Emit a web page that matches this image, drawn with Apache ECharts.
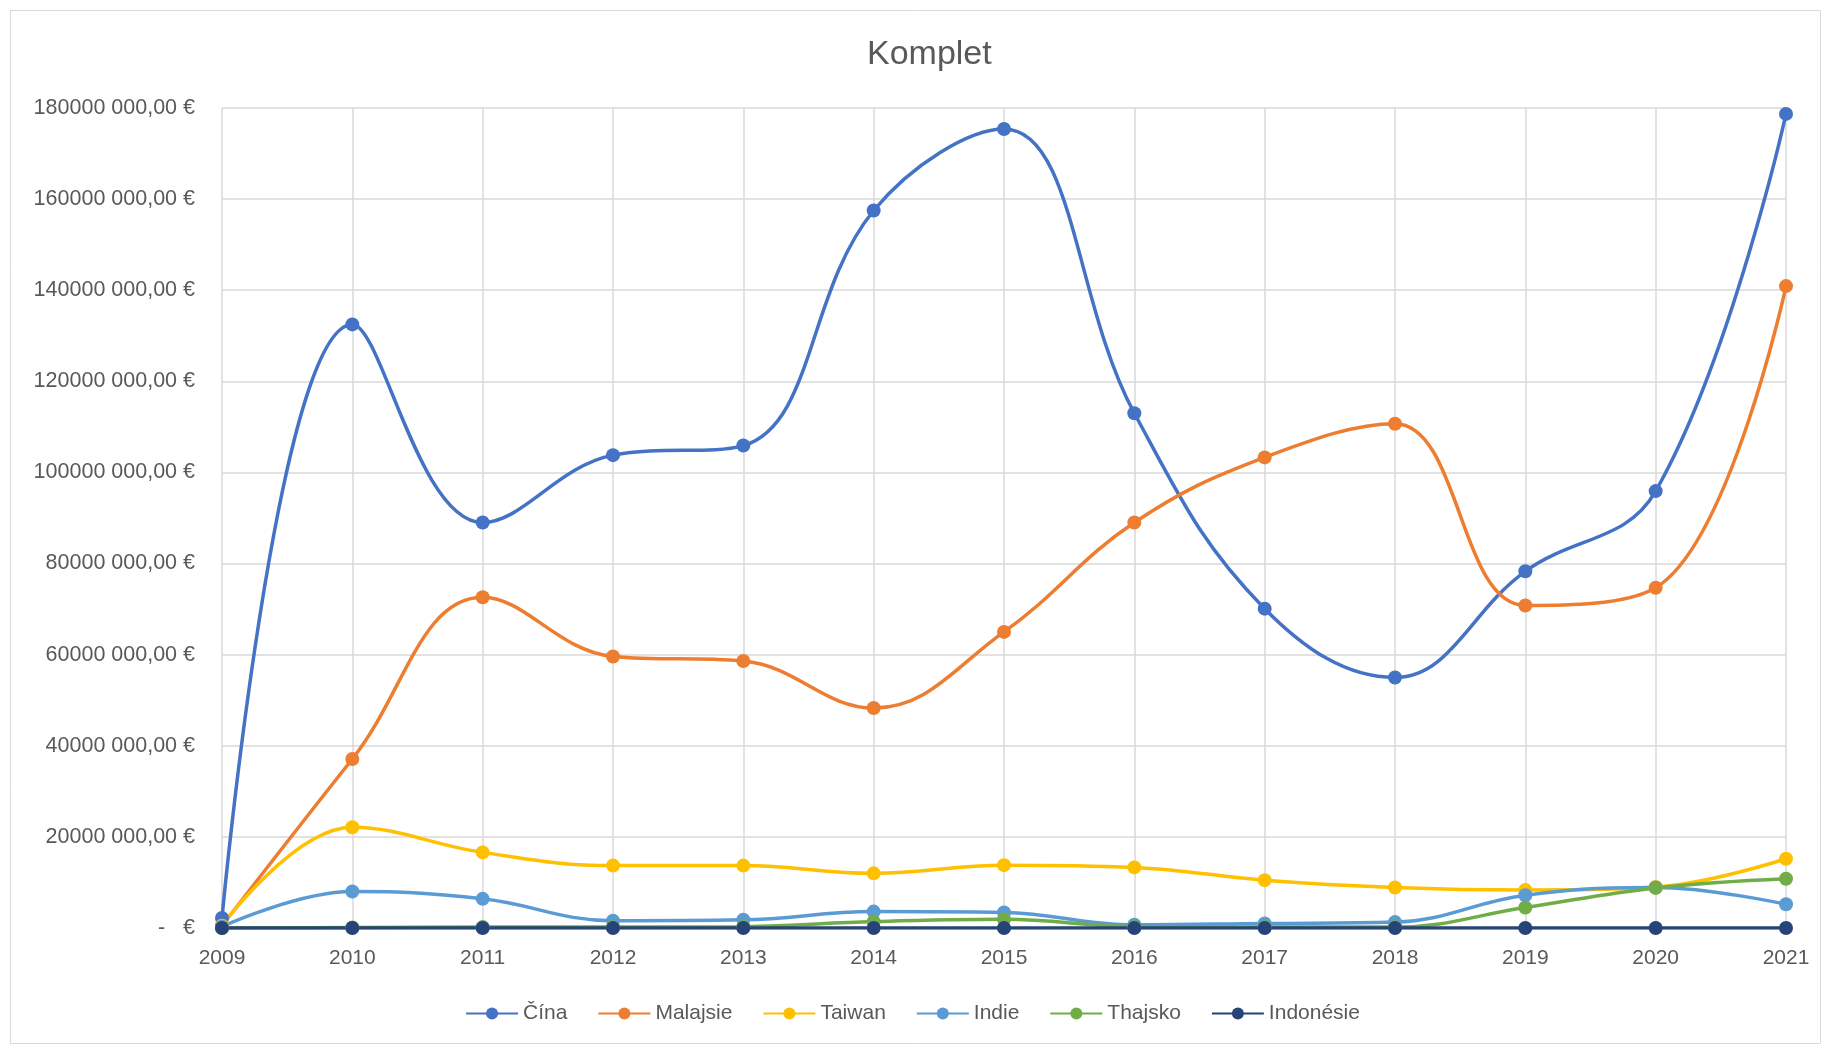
<!DOCTYPE html>
<html>
<head>
<meta charset="utf-8">
<script src="https://cdn.jsdelivr.net/npm/echarts@6/dist/echarts.min.js"></script>
<style>
html,body{margin:0;padding:0;background:#fff;}
#chart{width:1825px;height:1046px;}
</style>
</head>
<body>
<div id="chart"></div>
<script>
const years = ['2009','2010','2011','2012','2013','2014','2015','2016','2017','2018','2019','2020','2021'];
const cina      = [2200000,132500000,89000000,103800000,105900000,157500000,175400000,113000000,70100000,55000000,78300000,95900000,178700000];
const malajsie  = [500000,37100000,72600000,59600000,58600000,48300000,65000000,89000000,103300000,110700000,70800000,74700000,140900000];
const taiwan    = [500000,22100000,16600000,13700000,13700000,12000000,13800000,13300000,10500000,8900000,8350000,9000000,15200000];
const indie     = [300000,8000000,6400000,1600000,1800000,3600000,3400000,700000,1000000,1300000,7200000,8900000,5200000];
const thajsko   = [0,100000,200000,200000,300000,1400000,1900000,300000,200000,200000,4500000,8800000,10800000];
const indonesie = [0,0,0,0,0,0,0,0,0,0,0,0,0];
const seriesNames = ['Čína','Malajsie','Taiwan','Indie','Thajsko','Indonésie'];
const seriesColors = ['#4472C4','#ED7D31','#FFC000','#5B9BD5','#70AD47','#264478'];
const seriesData = [cina, malajsie, taiwan, indie, thajsko, indonesie];

function fmtY(v){
  if (v === 0) return '-   €';
  const th = Math.floor(v/1000);
  const rest = String(v % 1000).padStart(3,'0');
  return th + ' ' + rest + ',00 €';
}

const chart = echarts.init(document.getElementById('chart'));
const txt = '#595959';
const font = 'Liberation Sans';
chart.setOption({
  backgroundColor:'#fff',
  animation:false,
  graphic:[{type:'rect',shape:{x:10.5,y:10.5,width:1810,height:1033},style:{fill:'none',stroke:'#d9d9d9',lineWidth:1}}],
  title:{text:'Komplet',left:862,top:33,textStyle:{color:txt,fontFamily:font,fontSize:34,fontWeight:'normal'}},
  legend:{top:998,left:'center',itemWidth:52,itemHeight:15,itemGap:30,
    textStyle:{color:txt,fontFamily:font,fontSize:21},data:seriesNames},
  grid:{left:222,right:39,top:108,bottom:118,containLabel:false},
  xAxis:{type:'category',data:years,boundaryGap:false,
    axisLine:{show:true,lineStyle:{color:'#d9d9d9',width:1.5}},
    axisTick:{show:false},
    splitLine:{show:true,lineStyle:{color:'#d9d9d9',width:1.5}},
    axisLabel:{color:txt,fontFamily:font,fontSize:21,margin:20}},
  yAxis:{type:'value',min:0,max:180000000,interval:20000000,
    axisLine:{show:false},axisTick:{show:false},
    splitLine:{show:true,lineStyle:{color:'#d9d9d9',width:1.5}},
    axisLabel:{color:txt,fontFamily:font,fontSize:21.5,margin:27,formatter:fmtY}},
  series: seriesNames.map((n,i)=>({
    name:n,type:'line',data:seriesData[i],smooth:0.4,
    symbol:'circle',symbolSize:14,
    lineStyle:{width:3.5,color:seriesColors[i]},
    itemStyle:{color:seriesColors[i]}
  }))
});
</script>
</body>
</html>
